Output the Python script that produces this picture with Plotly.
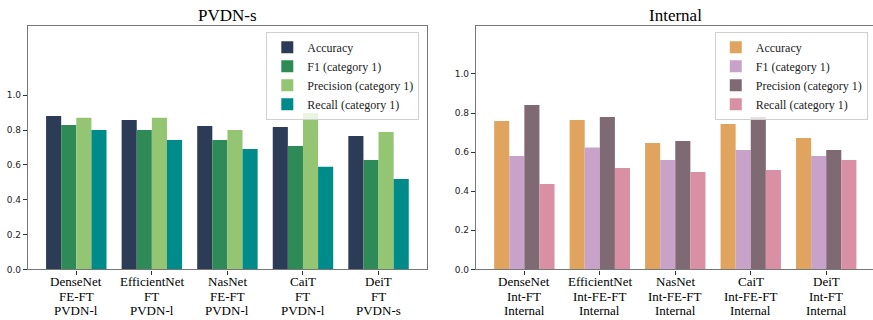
import plotly.graph_objects as go

metrics = ["Accuracy", "F1 (category 1)", "Precision (category 1)", "Recall (category 1)"]

pvdn_labels = ["DenseNet<br>FE-FT<br>PVDN-l", "EfficientNet<br>FT<br>PVDN-l", "NasNet<br>FE-FT<br>PVDN-l",
               "CaiT<br>FT<br>PVDN-l", "DeiT<br>FT<br>PVDN-s"]
pvdn_accuracy = [0.881, 0.858, 0.824, 0.818, 0.766]
pvdn_f1 = [0.829, 0.800, 0.743, 0.709, 0.628]
pvdn_precision = [0.871, 0.871, 0.800, 0.898, 0.789]
pvdn_recall = [0.800, 0.743, 0.691, 0.590, 0.519]

int_labels = ["DenseNet<br>Int-FT<br>Internal", "EfficientNet<br>Int-FE-FT<br>Internal",
              "NasNet<br>Int-FE-FT<br>Internal", "CaiT<br>Int-FE-FT<br>Internal", "DeiT<br>Int-FT<br>Internal"]
int_accuracy = [0.759, 0.764, 0.647, 0.744, 0.672]
int_f1 = [0.580, 0.623, 0.560, 0.611, 0.580]
int_precision = [0.841, 0.780, 0.657, 0.780, 0.611]
int_recall = [0.437, 0.519, 0.498, 0.508, 0.560]

pvdn_colors = ["#2d3c56", "#2e8b57", "#93c572", "#008b8b"]
int_colors = ["#e0a45e", "#c8a2c8", "#7f6a74", "#d98fa4"]

serif = "Liberation Serif"
sans = "DejaVu Sans"
spine = "#777777"

fig = go.Figure()
for name, vals, col in zip(metrics, [pvdn_accuracy, pvdn_f1, pvdn_precision, pvdn_recall], pvdn_colors):
    fig.add_trace(go.Bar(x=pvdn_labels, y=vals, name=name, marker=dict(color=col, line=dict(width=0)),
                         xaxis="x", yaxis="y", legend="legend", offsetgroup=name))
for name, vals, col in zip(metrics, [int_accuracy, int_f1, int_precision, int_recall], int_colors):
    fig.add_trace(go.Bar(x=int_labels, y=vals, name=name, marker=dict(color=col, line=dict(width=0)),
                         xaxis="x2", yaxis="y2", legend="legend2", offsetgroup=name))

xcommon = dict(showline=True, linecolor=spine, linewidth=1.3, mirror=True, ticks="outside", ticklen=4,
               tickcolor="#333", showticklabels=False, showgrid=False, automargin=False,
               zeroline=False, type="category")
ycommon = dict(showline=True, linecolor=spine, linewidth=1.3, mirror=True, ticks="outside", ticklen=4,
               tickcolor="#333", tickfont=dict(family=sans, size=9, color="#222"), showgrid=False,
               zeroline=False, automargin=False, tickvals=[0, 0.2, 0.4, 0.6, 0.8, 1.0],
               ticktext=["0.0", "0.2", "0.4", "0.6", "0.8", "1.0"])

legcommon = dict(font=dict(family=serif, size=12, color="#222"), bgcolor="rgba(255,255,255,0.8)",
                 bordercolor="#d0d0d0", borderwidth=1, xanchor="right", yanchor="top",
                 tracegroupgap=0, itemwidth=30)

annotations = [
    dict(text="PVDN-s", x=0.2605, y=0.953, xref="paper", yref="paper", showarrow=False,
         font=dict(family=serif, size=17, color="black"), xanchor="center", yanchor="middle"),
    dict(text="Internal", x=0.7735, y=0.953, xref="paper", yref="paper", showarrow=False,
         font=dict(family=serif, size=17, color="black"), xanchor="center", yanchor="middle"),
]
row_y = [0.1203, 0.075, 0.0297]
for xref, labels in [("x", pvdn_labels), ("x2", int_labels)]:
    for lab in labels:
        for i, line in enumerate(lab.split("<br>")):
            annotations.append(dict(text=line, x=lab, y=row_y[i], xref=xref, yref="paper", showarrow=False,
                                    font=dict(family=serif, size=13, color="black"),
                                    xanchor="center", yanchor="middle"))

fig.update_layout(
    width=873, height=320,
    margin=dict(l=0, r=0, t=0, b=0, autoexpand=False),
    plot_bgcolor="white", paper_bgcolor="white",
    barmode="group", bargap=0.2, bargroupgap=0,
    xaxis=dict(domain=[0.032, 0.489], range=[-0.64, 4.64], anchor="y", **xcommon),
    yaxis=dict(domain=[0.158, 0.92], range=[0, 1.4], anchor="x", **ycommon),
    xaxis2=dict(domain=[0.5453, 1.0], range=[-0.64, 4.62], anchor="y2", **xcommon),
    yaxis2=dict(domain=[0.158, 0.92], range=[0, 1.247], anchor="x2", **ycommon),
    legend=dict(x=0.4803, y=0.901, **legcommon),
    legend2=dict(x=0.994, y=0.901, **legcommon),
    annotations=annotations,
    showlegend=True,
)

fig.write_html("out.html", config={"displayModeBar": False},
               post_script="document.body.style.margin='0';document.body.style.overflow='hidden';")
